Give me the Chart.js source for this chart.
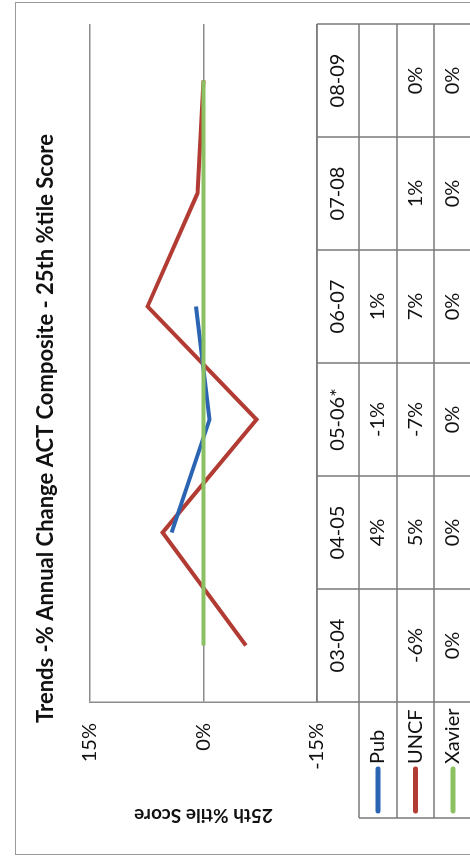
<!DOCTYPE html>
<html>
<head>
<meta charset="utf-8">
<script src="https://cdn.jsdelivr.net/npm/chart.js@4/dist/chart.umd.min.js"></script>
<style>
  html, body { margin: 0; padding: 0; background: #fff; overflow: hidden; width: 470px; height: 863px; }
  /* the scanned chart is turned a quarter turn: draw it upright, then rotate */
  #wrap {
    position: absolute; left: 0; top: 0;
    width: 863px; height: 500px;
    transform-origin: 0 0;
    transform: translate(0, 863px) rotate(-90deg);
  }
  #frame {
    position: absolute; left: 8px; top: 15px; width: 853px; height: 500px;
    border: 1.5px solid #9a9a9a; box-sizing: border-box;
  }
  #c { position: absolute; left: 0; top: 0; }
</style>
</head>
<body>
<div id="wrap">
  <div id="frame"></div>
  <canvas id="c" width="863" height="500"></canvas>
</div>
<script>
const categories = ["03-04", "04-05", "05-06*", "06-07", "07-08", "08-09"];
const pubValues = [null, 4.2, -0.8, 1.0, null, null];
const uncfValues = [-5.6, 5.4, -7.0, 7.4, 0.8, 0.0];
const xavierValues = [0, 0, 0, 0, 0, 0];
const yTicks = [-15, 0, 15];

const seriesNames = ["Pub", "UNCF", "Xavier"];
const seriesColors = ["#2a64b2", "#b23c34", "#8cc163"];
const seriesData = [pubValues, uncfValues, xavierValues];

const FONT = "Lato";
const GRID = "#8c8c8c";
const TEXT = "#111";

// table under the plot, rows follow the x axis columns
const tablePlugin = {
  id: "dataTable",
  afterDraw(chart) {
    const ctx = chart.ctx;
    const x = chart.scales.x;
    const area = chart.chartArea;
    const colW = (area.right - area.left) / categories.length;
    const rows = [area.bottom, 359, 397, 434, 472];
    const legendLeft = 45;

    ctx.save();
    ctx.strokeStyle = "#7a7a7a";
    ctx.lineWidth = 1.5;
    ctx.beginPath();
    for (let i = 0; i <= categories.length; i++) {
      const px = area.left + i * colW;
      ctx.moveTo(px, rows[0]);
      ctx.lineTo(px, rows[rows.length - 1]);
    }
    ctx.moveTo(area.left, rows[0]);
    ctx.lineTo(area.right, rows[0]);
    for (let r = 1; r < rows.length; r++) {
      ctx.moveTo(legendLeft, rows[r]);
      ctx.lineTo(area.right, rows[r]);
    }
    ctx.moveTo(legendLeft, rows[1]);
    ctx.lineTo(legendLeft, rows[rows.length - 1]);
    ctx.stroke();

    ctx.font = "20px " + FONT;
    ctx.fillStyle = TEXT;
    ctx.textBaseline = "middle";
    seriesData.forEach((vals, s) => {
      const cy = (rows[s + 1] + rows[s + 2]) / 2;
      ctx.textAlign = "center";
      vals.forEach((v, i) => {
        if (v === null) return;
        ctx.fillText(Math.round(v) + "%", x.getPixelForValue(i), cy);
      });
      // legend key
      ctx.strokeStyle = seriesColors[s];
      ctx.lineWidth = 5;
      ctx.lineCap = "round";
      ctx.beginPath();
      ctx.moveTo(52, cy);
      ctx.lineTo(94, cy);
      ctx.stroke();
      ctx.textAlign = "left";
      ctx.fillText(seriesNames[s], 99, cy);
    });
    ctx.restore();
  }
};

new Chart(document.getElementById("c"), {
  type: "line",
  data: {
    labels: categories,
    datasets: seriesNames.map((name, s) => ({
      label: name,
      data: seriesData[s],
      borderColor: seriesColors[s],
      backgroundColor: seriesColors[s],
      borderWidth: 4,
      pointRadius: 0,
      tension: 0,
      spanGaps: false,
      order: s === 2 ? 0 : s + 1
    }))
  },
  options: {
    responsive: false,
    animation: false,
    layout: { padding: { left: 30, right: 24, top: 0, bottom: 0 } },
    plugins: {
      legend: { display: false },
      tooltip: { enabled: false },
      title: {
        display: true,
        text: "Trends -% Annual Change ACT Composite - 25th %tile Score",
        color: TEXT,
        font: { family: FONT, size: 22, weight: "bold" },
        padding: { top: 33, bottom: 30.6 }
      }
    },
    scales: {
      x: {
        offset: true,
        grid: { display: false, drawTicks: false },
        border: { display: false },
        ticks: { color: TEXT, font: { family: FONT, size: 20 }, padding: 9, maxRotation: 0 },
        afterFit(scale) { scale.height = 500 - 317; }
      },
      y: {
        min: -15,
        max: 15,
        afterBuildTicks(scale) { scale.ticks = yTicks.map(v => ({ value: v })); },
        grid: { color: GRID, lineWidth: 1.5, drawTicks: false },
        border: { display: true, color: GRID, width: 1.5 },
        ticks: {
          color: TEXT,
          font: { family: FONT, size: 20 },
          padding: 21,
          callback: v => v + "%"
        },
        title: {
          display: true,
          text: "25th %tile Score",
          color: TEXT,
          font: { family: FONT, size: 19, weight: "bold" },
          padding: { top: 6.6, bottom: 0 }
        },
        afterFit(scale) { scale.width = 161 - 30; }
      }
    }
  },
  plugins: [tablePlugin]
});
</script>
</body>
</html>
